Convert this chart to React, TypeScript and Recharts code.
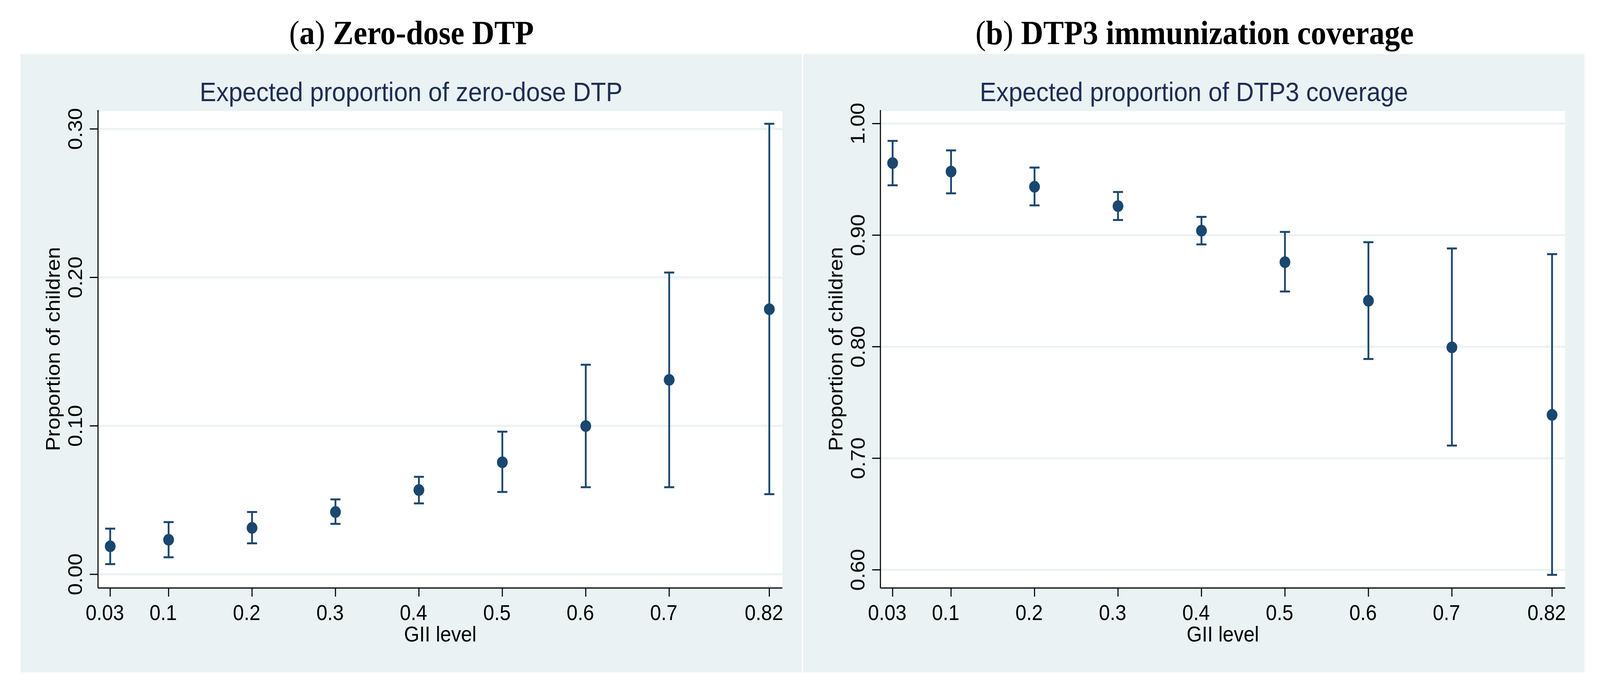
import React from "react";
import { ScatterChart, Scatter, XAxis, YAxis, CartesianGrid, ErrorBar } from "recharts";

// GII levels on the x axis (also the tick labels)
const GII = [0.03, 0.1, 0.2, 0.3, 0.4, 0.5, 0.6, 0.7, 0.82];

// (a) expected proportion of zero-dose DTP, with 95% CI
const ZERO_MEAN = [0.0189, 0.0233, 0.0313, 0.042, 0.0568, 0.0755, 0.0999, 0.131, 0.1786];
const ZERO_LOW = [0.0069, 0.0115, 0.0209, 0.034, 0.0478, 0.0555, 0.0587, 0.0587, 0.054];
const ZERO_HIGH = [0.0308, 0.0352, 0.042, 0.0505, 0.0657, 0.0961, 0.1412, 0.2033, 0.3035];
const ZERO_TICKS = [0, 0.1, 0.2, 0.3];

// (b) expected proportion of DTP3 coverage, with 95% CI
const DTP_MEAN = [0.9646, 0.957, 0.9434, 0.926, 0.904, 0.8758, 0.8412, 0.7994, 0.7389];
const DTP_LOW = [0.9447, 0.9375, 0.9267, 0.9136, 0.8917, 0.8495, 0.789, 0.7114, 0.5955];
const DTP_HIGH = [0.9845, 0.976, 0.9606, 0.9387, 0.9164, 0.9029, 0.8937, 0.8881, 0.883];
const DTP_TICKS = [0.6, 0.7, 0.8, 0.9, 1.0];

const W = 4456;
const H = 1780;
const NAVY = "#1a476f";
const BG = "#eaf2f3";
const SANS = '"Liberation Sans", Arial, sans-serif';
const SERIF = '"Liberation Serif", "Times New Roman", serif';

function YTick({ x, y, payload }: any) {
    return (
        <text x={x} y={y} transform={`rotate(-90, ${x}, ${y})`} textAnchor="middle" fontSize={55} fontFamily={SANS} fill="#000">
            {Number(payload.value).toFixed(2)}
        </text>
    );
}

function XTick({ x, y, payload }: any) {
    return (
        <text x={x - 15} y={y + 39} textAnchor="middle" fontSize={55} fontFamily={SANS} fill="#000">
            {String(payload.value)}
        </text>
    );
}

function Dot(p: any) {
    return <circle cx={p.cx} cy={p.cy} r={15} fill={NAVY} />;
}

function Panel({
    left,
    yAxisWidth,
    mean,
    low,
    high,
    yDomain,
    yTicks,
}: {
    left: number;
    yAxisWidth: number;
    mean: number[];
    low: number[];
    high: number[];
    yDomain: [number, number];
    yTicks: number[];
}) {
    const data = GII.map((g, i) => ({
        gii: g,
        value: mean[i],
        err: [mean[i] - low[i], high[i] - mean[i]],
    }));

    return (
        <div style={{ position: "absolute", left, top: 138, width: 2176, height: 1584, background: BG }}>
            <ScatterChart width={2176} height={1584} margin={{ top: 144, right: 54, bottom: 0, left: 0 }}>
                <CartesianGrid vertical={false} stroke={BG} strokeWidth={5} fill="#fff" />
                <XAxis
                    type="number"
                    dataKey="gii"
                    domain={[0.0154, 0.8357]}
                    ticks={GII}
                    allowDataOverflow
                    height={216}
                    tickSize={22}
                    tickMargin={21}
                    tick={<XTick />}
                    axisLine={{ stroke: "#000", strokeWidth: 3 }}
                    tickLine={{ stroke: "#000", strokeWidth: 3 }}
                    label={({ viewBox }: any) => (
                        <text
                            x={viewBox.x + viewBox.width / 2}
                            y={viewBox.y + 137}
                            textAnchor="middle"
                            fontSize={55}
                            fontFamily={SANS}
                            fill="#000"
                        >
                            GII level
                        </text>
                    )}
                />
                <YAxis
                    type="number"
                    dataKey="value"
                    domain={yDomain}
                    ticks={yTicks}
                    allowDataOverflow
                    width={yAxisWidth}
                    tickSize={23}
                    tickMargin={21}
                    tick={<YTick />}
                    axisLine={{ stroke: "#000", strokeWidth: 3 }}
                    tickLine={{ stroke: "#000", strokeWidth: 3 }}
                    label={({ viewBox }: any) => {
                        const lx = viewBox.x + viewBox.width - 106;
                        const ly = viewBox.y + viewBox.height / 2;
                        return (
                            <text
                                x={lx}
                                y={ly}
                                transform={`rotate(-90, ${lx}, ${ly})`}
                                textAnchor="middle"
                                fontSize={55}
                                fontFamily={SANS}
                                fill="#000"
                            >
                                Proportion of children
                            </text>
                        );
                    }}
                />
                <Scatter data={data} fill={NAVY} shape={Dot} isAnimationActive={false}>
                    <ErrorBar dataKey="err" direction="y" width={14} strokeWidth={5} stroke={NAVY} isAnimationActive={false} />
                </Scatter>
            </ScatterChart>
        </div>
    );
}

export default function App() {
    // the browser may hand us a smaller viewport than 4456x1780; stretch the layout to fill it
    const vw = typeof window !== "undefined" ? window.innerWidth : W;
    const vh = typeof window !== "undefined" ? window.innerHeight : H;
    const sx = Math.min(vw / W, 1);
    const sy = Math.min(vh / H, 1);

    return (
        <div style={{ position: "fixed", left: 0, top: 0, right: 0, bottom: 0, overflow: "hidden", background: "#fff" }}>
            <div
                style={{
                    position: "absolute",
                    left: 0,
                    top: 0,
                    width: W,
                    height: H,
                    transform: `scale(${sx}, ${sy})`,
                    transformOrigin: "0 0",
                    fontFamily: SANS,
                }}
            >
                <Panel
                    left={57}
                    yAxisWidth={216}
                    mean={ZERO_MEAN}
                    low={ZERO_LOW}
                    high={ZERO_HIGH}
                    yDomain={[-0.0092, 0.3127]}
                    yTicks={ZERO_TICKS}
                />
                <Panel
                    left={2237}
                    yAxisWidth={215}
                    mean={DTP_MEAN}
                    low={DTP_LOW}
                    high={DTP_HIGH}
                    yDomain={[0.5837, 1.0121]}
                    yTicks={DTP_TICKS}
                />
                <svg width={W} height={H} style={{ position: "absolute", left: 0, top: 0, pointerEvents: "none" }}>
                    <text x={1146} y={113} textAnchor="middle" fontSize={86} fontFamily={SERIF} fill="#000">
                        <tspan>(</tspan>
                        <tspan fontWeight="bold">a</tspan>
                        <tspan>) </tspan>
                        <tspan fontWeight="bold">Zero-dose DTP</tspan>
                    </text>
                    <text x={3327} y={113} textAnchor="middle" fontSize={86} fontFamily={SERIF} fill="#000">
                        <tspan>(</tspan>
                        <tspan fontWeight="bold">b</tspan>
                        <tspan>) </tspan>
                        <tspan fontWeight="bold">DTP3 immunization coverage</tspan>
                    </text>
                    <text x={1145} y={259} textAnchor="middle" fontSize={69} fontFamily={SANS} fill="#1f2d55">
                        Expected proportion of zero-dose DTP
                    </text>
                    <text x={3325} y={259} textAnchor="middle" fontSize={69} fontFamily={SANS} fill="#1f2d55">
                        Expected proportion of DTP3 coverage
                    </text>
                </svg>
            </div>
        </div>
    );
}
